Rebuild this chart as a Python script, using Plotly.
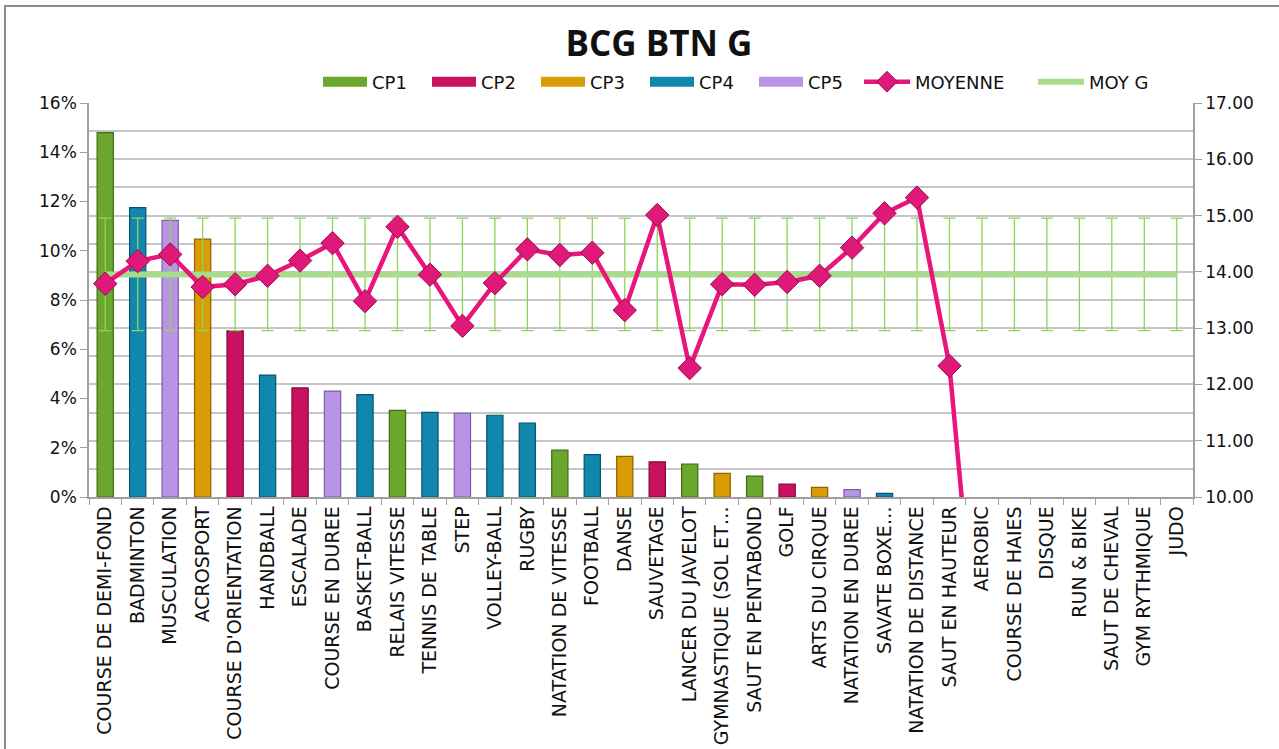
import plotly.graph_objects as go

categories = ["COURSE DE DEMI-FOND", "BADMINTON", "MUSCULATION", "ACROSPORT",
              "COURSE D'ORIENTATION", "HANDBALL", "ESCALADE", "COURSE EN DUREE",
              "BASKET-BALL", "RELAIS VITESSE", "TENNIS DE TABLE", "STEP",
              "VOLLEY-BALL", "RUGBY", "NATATION DE VITESSE", "FOOTBALL", "DANSE",
              "SAUVETAGE", "LANCER DU JAVELOT", "GYMNASTIQUE (SOL ET…",
              "SAUT EN PENTABOND", "GOLF", "ARTS DU CIRQUE", "NATATION EN DUREE",
              "SAVATE BOXE…", "NATATION DE DISTANCE", "SAUT EN HAUTEUR", "AEROBIC",
              "COURSE DE HAIES", "DISQUE", "RUN & BIKE", "SAUT DE CHEVAL",
              "GYM RYTHMIQUE", "JUDO"]

# share of students per activity (fraction)
share = [0.148, 0.1175, 0.1123, 0.1047, 0.0675, 0.0495, 0.0443, 0.0430, 0.0416,
         0.0352, 0.0344, 0.0340, 0.0332, 0.0300, 0.0190, 0.0172, 0.0165, 0.0143,
         0.0134, 0.0096, 0.0085, 0.0052, 0.0039, 0.0030, 0.0015, 0, 0, 0, 0, 0,
         0, 0, 0, 0]

# competence group of each activity (1..5)
cp_group = [1, 4, 5, 3, 2, 4, 2, 5, 4, 1, 4, 5, 4, 4, 1, 4, 3, 2, 1, 3, 1, 2, 3,
            5, 4, 1, 1, 5, 1, 1, 1, 3, 3, 4]

# mean mark per activity (right axis)
moyenne = [13.79, 14.19, 14.31, 13.73, 13.78, 13.93, 14.20, 14.51, 13.48, 14.80,
           13.95, 13.04, 13.80, 14.40, 14.30, 14.34, 13.32, 15.01, 12.29, 13.78,
           13.77, 13.82, 13.93, 14.43, 15.04, 15.32, 12.33, 6.10, None, None,
           None, None, None, None]

moy_g = 13.955
moy_g_err = 1.0

cp_names = ["CP1", "CP2", "CP3", "CP4", "CP5"]
cp_colors = ["#6aa72c", "#c9115f", "#d89c04", "#1187ad", "#b993e6"]
cp_edges = ["#3f6a14", "#7d0a3a", "#8a6300", "#0a546d", "#7a5ea0"]

W, H = 1279, 749
L, R, T, B = 89, 1193, 103, 497


def px(x):
    return (x - L) / (R - L)


def py(y):
    return (B - y) / (B - T)


fig = go.Figure()

for i, name in enumerate(cp_names):
    ys = [v if (g == i + 1 and v > 0) else None for v, g in zip(share, cp_group)]
    fig.add_trace(go.Bar(
        x=categories, y=ys, name=name, width=0.5, showlegend=False,
        marker=dict(color=cp_colors[i], line=dict(color=cp_edges[i], width=1.2)),
        yaxis="y",
    ))
    # legend entry (wide swatch like the original)
    fig.add_trace(go.Scatter(
        x=[None], y=[None], name=name, mode="lines",
        line=dict(color=cp_colors[i], width=10), legend="legend",
    ))

fig.add_trace(go.Scatter(
    x=categories, y=[moy_g] * len(categories), name="MOY G", mode="lines",
    line=dict(color="#a8dc8c", width=6), legend="legend2", legendrank=2,
    error_y=dict(type="constant", value=moy_g_err, color="#8fd45a",
                 thickness=1.3, width=6),
    yaxis="y2",
))

fig.add_trace(go.Scatter(
    x=categories, y=moyenne, name="MOYENNE", mode="lines+markers",
    line=dict(color="#e9157b", width=4.5), legend="legend2", legendrank=1,
    marker=dict(symbol="diamond", size=18, color="#e0187a",
                line=dict(color="#9a0c50", width=1)),
    yaxis="y2", connectgaps=False,
))

fig.add_shape(type="rect", xref="paper", yref="paper",
              x0=px(5), x1=px(1290), y0=py(6), y1=py(760),
              line=dict(color="#8a8a8a", width=2), layer="above")

tick_font = dict(family="DejaVu Sans", size=17, color="#111111")
leg_font = dict(family="DejaVu Sans", size=18, color="#111111")

fig.update_layout(
    width=W, height=H,
    margin=dict(l=L, r=W - R, t=T, b=H - B, pad=0, autoexpand=False),
    paper_bgcolor="white", plot_bgcolor="white",
    barmode="overlay", hovermode=False,
    title=dict(text="<b>BCG BTN G</b>", x=659 / W, xanchor="center",
               y=1 - 44 / H, yanchor="middle",
               font=dict(family="Open Sans, sans-serif", size=35, color="#111111")),
    legend=dict(orientation="h", x=px(318), xanchor="left",
                y=py(82), yanchor="middle", font=leg_font,
                itemwidth=44, entrywidth=50, traceorder="normal",
                bgcolor="rgba(0,0,0,0)"),
    legend2=dict(orientation="h", x=px(859), xanchor="left",
                 y=py(82), yanchor="middle", font=leg_font,
                 itemwidth=46, entrywidth=113, bgcolor="rgba(0,0,0,0)"),
    showlegend=True,
    xaxis=dict(type="category", range=[-0.5, len(categories) - 0.5],
               tickangle=-90, tickson="boundaries", ticks="outside",
               ticklen=6, tickcolor="#a0a0a0", showline=True,
               linecolor="#a0a0a0", linewidth=1.5, showgrid=False,
               tickfont=dict(family="DejaVu Sans", size=19, color="#111111")),
    yaxis=dict(range=[0, 0.16], dtick=0.02, tickformat=".0%",
               ticks="outside", ticklen=7, tickcolor="#a0a0a0",
               showline=True, linecolor="#a0a0a0", linewidth=1.5,
               showgrid=False, zeroline=False, tickfont=tick_font),
    yaxis2=dict(range=[10, 17], dtick=1, tickformat=".2f", overlaying="y",
                side="right", ticks="outside", ticklen=7, tickcolor="#a0a0a0",
                showline=True, linecolor="#a0a0a0", linewidth=1.5,
                showgrid=True, gridcolor="#c6c6c6", gridwidth=1.5,
                minor=dict(dtick=0.5, showgrid=True, gridcolor="#c6c6c6",
                           gridwidth=1.5),
                zeroline=False, tickfont=tick_font),
)

fig.write_html("out.html", config={"displayModeBar": False},
               post_script="document.body.style.margin='0px';"
                           "document.body.style.overflow='hidden';")
